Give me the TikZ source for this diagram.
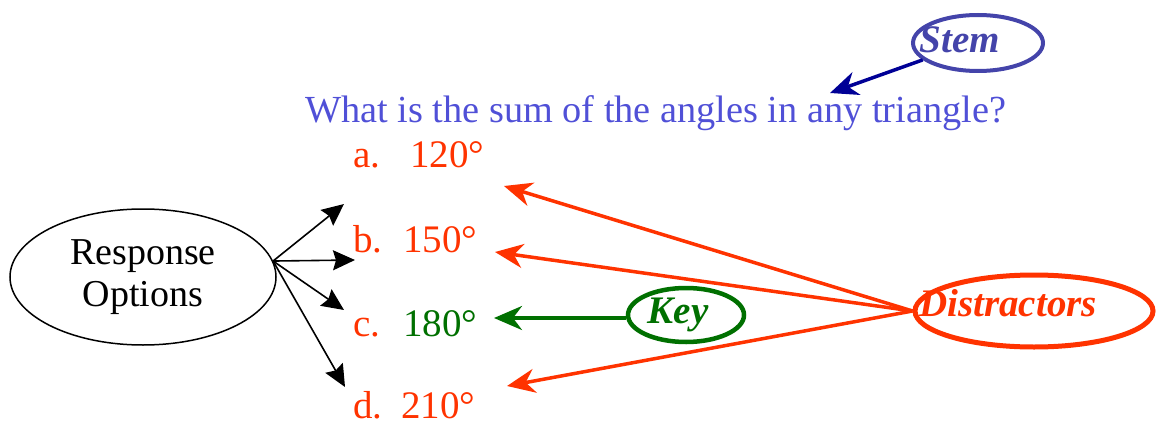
\documentclass[tikz,border=0pt]{standalone}
\usepackage{fontspec}
\setmainfont{Liberation Serif}
\usetikzlibrary{arrows.meta,shapes.geometric}
\definecolor{optred}{RGB}{255,51,0}
\definecolor{keygreen}{RGB}{0,112,0}
\definecolor{qblue}{RGB}{80,80,215}
\definecolor{stemblue}{RGB}{68,68,170}
\definecolor{arrblue}{RGB}{0,0,150}
\tikzset{
  x=1pt, y=-1pt,
  opt/.style={anchor=base west, font=\fontsize{39}{44}\selectfont, inner sep=0pt},
  bubble/.style={ellipse, draw, inner sep=0pt},
  tag/.style={font=\fontsize{39}{44}\selectfont\bfseries\itshape, inner sep=0pt},
  colarr/.style={line width=3.5pt, -{Stealth[length=28pt,width=24pt,inset=9pt]}},
  blackarr/.style={draw=black, line width=1.6pt, -{Stealth[length=22pt,width=20pt,inset=3pt]}},
}
\begin{document}
\begin{tikzpicture}
\useasboundingbox (0,0) rectangle (1156,425);
% question
\node[opt, text=qblue, font=\fontsize{38.3}{44}\selectfont] (q) at (305,123) {What is the sum of the angles in any triangle?};
% options
\node[opt, text=optred] (la) at (353,167) {a.};
\node[opt, text=optred] (na) at (410,167) {120°};
\node[opt, text=optred] (lb) at (353,252) {b.};
\node[opt, text=optred] (nb) at (403,252) {150°};
\node[opt, text=optred] (lc) at (353,336) {c.};
\node[opt, text=keygreen] (nc) at (403,336) {180°};
\node[opt, text=optred] (ld) at (353,418) {d.};
\node[opt, text=optred] (nd) at (401,418) {210°};
% response options
\node[bubble, line width=1.5pt, minimum width=266pt, minimum height=136pt,
      align=center, font=\fontsize{38}{42}\selectfont] (resp) at (143,277) {Response\\Options};
\coordinate (ta) at (344,204);
\coordinate (tb) at (355,260);
\coordinate (tc) at (344,310);
\coordinate (td) at (345,387);
\foreach \t in {ta,tb,tc,td} \draw[blackarr] (resp.7) -- (\t);
% stem
\node[bubble, draw=stemblue, line width=4pt, minimum width=130pt, minimum height=56pt] (stem) at (978,43) {};
\node[tag, text=stemblue] (stemt) at (960,40) {Stem};
\coordinate (sq) at (830,93);
\draw[colarr, draw=arrblue, fill=arrblue] (stem.197) -- (sq);
% key
\node[bubble, draw=keygreen, line width=4.5pt, minimum width=116pt, minimum height=54pt] (key) at (686,315) {};
\node[tag, text=keygreen] (keyt) at (678,315) {Key};
\coordinate (tk) at (494,318);
\draw[colarr, draw=keygreen] (key.west |- tk) -- (tk);
% distractors
\node[bubble, draw=optred, line width=5pt, minimum width=238pt, minimum height=72pt] (dis) at (1034,311) {};
\node[tag, text=optred] (dist) at (1008,303) {Distractors};
\coordinate (da) at (504,186);
\coordinate (db) at (495,252);
\coordinate (dd) at (507,386);
\foreach \t in {da,db,dd} \draw[colarr, draw=optred] (dis.west) -- (\t);
\end{tikzpicture}
\end{document}
